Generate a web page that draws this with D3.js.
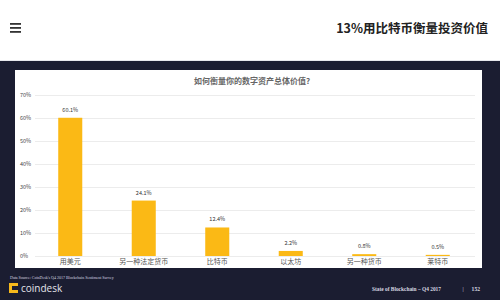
<!DOCTYPE html>
<html><head><meta charset="utf-8">
<script src="https://cdn.jsdelivr.net/npm/d3@7"></script>
<style>
html,body{margin:0;padding:0;background:#fff;}
svg{display:block;}
</style></head>
<body>
<script>
const categories = ["用美元","另一种法定货币","比特币","以太坊","另一种货币","莱特币"];
const values = [60.1, 24.1, 12.4, 2.2, 0.8, 0.5];
const valueLabels = ["60.1%","24.1%","12.4%","2.2%","0.8%","0.5%"];
const yTicks = [0,10,20,30,40,50,60,70];
const chartTitle = "如何衡量你的数字资产总体价值?";
const pageTitle = "13%用比特币衡量投资价值";

const W=500,H=300;
const svg=d3.select("body").append("svg").attr("width",W).attr("height",H);
const font="'Noto Sans CJK SC','Noto Sans',sans-serif";

// header
svg.append("rect").attr("x",0).attr("y",0).attr("width",W).attr("height",61).attr("fill","#fff");
svg.append("line").attr("x1",0).attr("x2",W).attr("y1",60.5).attr("y2",60.5).attr("stroke","#e8e8ec");
[24,28,32].forEach(yy=>svg.append("rect").attr("x",10).attr("y",yy-1).attr("width",11).attr("height",1.8).attr("fill","#333"));
svg.append("text").attr("x",488).attr("y",33).attr("text-anchor","end")
  .attr("font-family",font).attr("font-weight","bold").attr("font-size",12.5).attr("fill","#222").text(pageTitle);

// dark background
svg.append("rect").attr("x",0).attr("y",61).attr("width",W).attr("height",H-61).attr("fill","#1b1d31");
// white panel
svg.append("rect").attr("x",15).attr("y",70).attr("width",467).attr("height",198).attr("fill","#fff");

svg.append("text").attr("x",252).attr("y",84).attr("text-anchor","middle")
  .attr("font-family",font).attr("font-size",8).attr("font-weight","bold").attr("fill","#666").text(chartTitle);

const x=d3.scaleBand().domain(categories).range([33.5,474.5]).paddingInner(0.673).paddingOuter(0.3365);
const y=d3.scaleLinear().domain([0,70]).range([256,95]);

const gy=svg.append("g").attr("transform","translate(35,0)")
  .call(d3.axisLeft(y).tickValues(yTicks).tickSize(-440).tickFormat(d=>d+"%"));
gy.select(".domain").remove();
gy.selectAll(".tick line").attr("stroke","#ececec");
gy.selectAll(".tick text").attr("x",-15).attr("text-anchor","start")
  .attr("font-family",font).attr("font-size",5.5).attr("fill","#444");

svg.append("g").selectAll("rect").data(values).join("rect")
  .attr("x",(d,i)=>x(categories[i])).attr("width",x.bandwidth())
  .attr("y",d=>y(d)).attr("height",d=>y(0)-y(d)).attr("fill","#fbb915");

svg.append("g").selectAll("text").data(values).join("text")
  .attr("x",(d,i)=>x(categories[i])+x.bandwidth()/2).attr("y",d=>y(d)-6)
  .attr("text-anchor","middle").attr("font-family",font).attr("font-size",5.5).attr("fill","#333")
  .text((d,i)=>valueLabels[i]);

const gx=svg.append("g").attr("transform","translate(0,256)")
  .call(d3.axisBottom(x).tickSize(0).tickPadding(3));
gx.select(".domain").remove();
gx.selectAll(".tick text").attr("font-family",font).attr("font-size",7).attr("fill","#555");

// footer
svg.append("text").attr("x",10).attr("y",279).attr("font-family","'Liberation Serif',serif").attr("font-size",4)
  .attr("fill","#d8d8e0").text("Data Source: CoinDesk's Q4 2017 Blockchain Sentiment Survey");
const lg=svg.append("g").attr("transform","translate(9,283)");
lg.append("rect").attr("x",0).attr("y",0).attr("width",9).attr("height",10).attr("fill","#f5b81c");
lg.append("rect").attr("x",3).attr("y",3).attr("width",6).attr("height",4).attr("fill","#1b1d31");
svg.append("text").attr("x",21).attr("y",292).attr("font-family","'Open Sans',sans-serif").attr("font-size",10)
  .attr("fill","#e4e4ea").text("coindesk");
const ff="'Liberation Serif',serif";
svg.append("text").attr("x",441).attr("y",291).attr("text-anchor","end").attr("font-family",ff)
  .attr("font-size",5.4).attr("font-weight","bold").attr("fill","#d8d8e0").text("State of Blockchain – Q4 2017");
svg.append("text").attr("x",463).attr("y",291).attr("text-anchor","middle").attr("font-family",ff)
  .attr("font-size",6).attr("fill","#d8d8e0").text("|");
svg.append("text").attr("x",480).attr("y",291).attr("text-anchor","end").attr("font-family",ff)
  .attr("font-size",5.6).attr("font-weight","bold").attr("fill","#d8d8e0").text("152");
</script>
</body></html>
